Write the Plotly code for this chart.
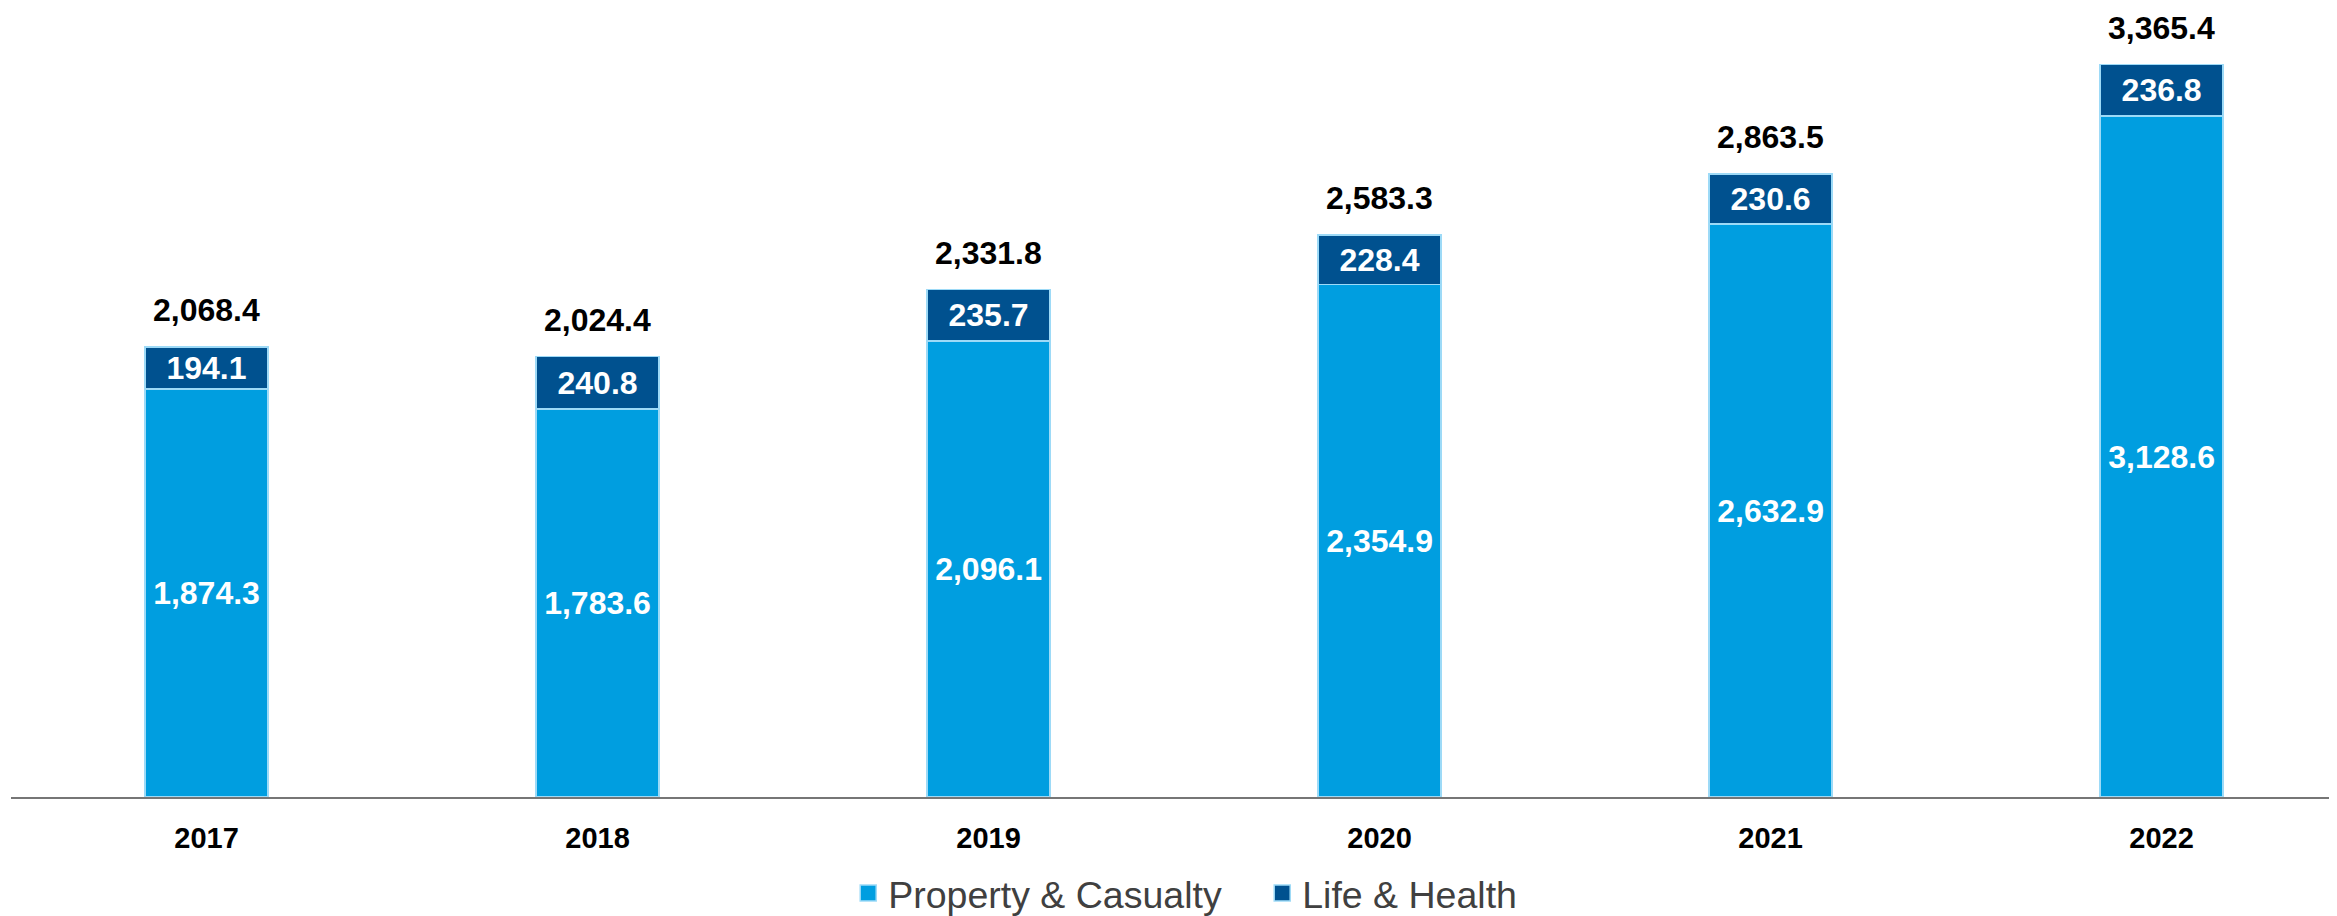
import plotly.graph_objects as go

years = ["2017", "2018", "2019", "2020", "2021", "2022"]
property_casualty = [1874.3, 1783.6, 2096.1, 2354.9, 2632.9, 3128.6]
life_health = [194.1, 240.8, 235.7, 228.4, 230.6, 236.8]
totals = [2068.4, 2024.4, 2331.8, 2583.3, 2863.5, 3365.4]

LIGHT = "#009EE0"
DARK = "#00518F"
EDGE = "#9DDAF7"
FONT = "Liberation Sans, Arial, sans-serif"

fig = go.Figure()
for name, vals, col in [("Property & Casualty", property_casualty, LIGHT),
                        ("Life & Health", life_health, DARK)]:
    fig.add_trace(go.Bar(
        x=years, y=vals, name=name, width=0.315,
        marker=dict(color=col, line=dict(color=EDGE, width=1.5)),
        texttemplate="%{y:,.1f}", textposition="inside",
        insidetextanchor="middle", constraintext="none",
        textfont=dict(color="white", size=32, family=FONT, weight="bold"),
        showlegend=False, legendgroup=name,
    ))
    fig.add_trace(go.Scatter(
        x=[None], y=[None], mode="markers", name=name, legendgroup=name,
        marker=dict(symbol="square", size=19, color=col, line=dict(color=EDGE, width=1.5)),
        showlegend=True,
    ))

for i, t in enumerate(totals):
    fig.add_annotation(x=i, y=t, xref="x", yref="y", text=f"{t:,.1f}", showarrow=False,
                       yanchor="bottom", yshift=17,
                       font=dict(size=32, color="black", family=FONT, weight="bold"))

fig.update_layout(
    barmode="stack",
    width=2337, height=916,
    margin=dict(l=3, r=0, t=5, b=111),
    paper_bgcolor="white", plot_bgcolor="white",
    font=dict(family=FONT),
    legend=dict(orientation="h", x=0.3587, xanchor="left", y=-0.1225, yanchor="middle",
                font=dict(size=37.5, color="#404040", family=FONT),
                entrywidth=369, entrywidthmode="pixels", itemsizing="trace"),
    xaxis=dict(type="category", range=[-0.5, 5.469], showline=True, linecolor="#767676",
               linewidth=2, showgrid=False, ticks="outside", ticklen=14,
               tickcolor="rgba(0,0,0,0)",
               tickfont=dict(size=29, color="black", family=FONT, weight="bold")),
    yaxis=dict(range=[0, 3603], visible=False, showgrid=False),
)

fig.write_html("out.html")
